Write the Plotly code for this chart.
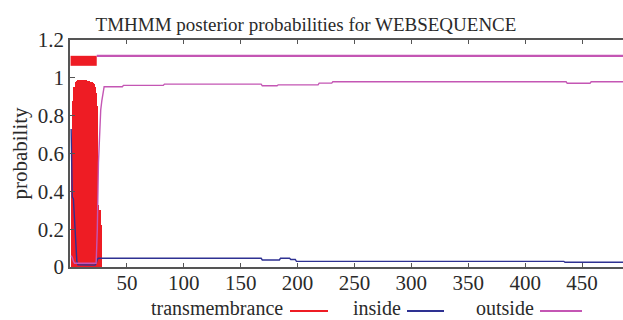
import plotly.graph_objects as go

# ---- data ----
seq_length = 486

# transmembrane posterior probability per residue (impulses)
tm_pos = list(range(1, 29))
tm_prob = [0.0, 0.62, 0.88, 0.95, 0.98, 0.985, 0.99, 0.99, 0.99, 0.99,
           0.99, 0.99, 0.99, 0.99, 0.985, 0.985, 0.985, 0.98, 0.98, 0.975,
           0.97, 0.95, 0.92, 0.85, 0.33, 0.30, 0.22, 0.0]

# inside probability (breakpoints)
in_pos = [1, 2, 3, 4, 5, 6, 7, 22, 23, 24, 25, 168, 169, 184, 185, 193, 194,
          198, 199, 434, 435, 486]
in_prob = [0.73, 0.37, 0.36, 0.22, 0.08, 0.03, 0.012, 0.01, 0.02, 0.04, 0.046,
           0.046, 0.037, 0.037, 0.046, 0.046, 0.04, 0.04, 0.03, 0.03, 0.025,
           0.025]

# outside probability (breakpoints)
out_pos = [1, 2, 3, 4, 23, 24, 25, 26, 27, 28, 29, 30, 46, 47, 82, 83, 168,
           169, 182, 183, 218, 219, 230, 231, 436, 437, 457, 458, 486]
out_prob = [0.06, 0.05, 0.03, 0.02, 0.02, 0.2, 0.55, 0.72, 0.83, 0.88, 0.93,
            0.953, 0.953, 0.96, 0.96, 0.967, 0.967, 0.958, 0.958, 0.963,
            0.963, 0.972, 0.972, 0.979, 0.979, 0.971, 0.971, 0.979, 0.979]

# predicted topology segments (start, end)
tm_segments = [(1, 23)]
outside_segments = [(24, 486)]

x_ticks = [50, 100, 150, 200, 250, 300, 350, 400, 450]
y_ticks = [0, 0.2, 0.4, 0.6, 0.8, 1, 1.2]

legend_labels = ["transmembrance", "inside", "outside"]

# ---- style ----
RED = "#ee1c24"
BLUE = "#2e3192"
MAG = "#c456b4"
FONT = "Liberation Serif"
AX = "#555555"
TXT = "#2a2a2a"

fig = go.Figure()

fig.add_trace(go.Bar(x=tm_pos, y=tm_prob, width=1.0,
                     marker=dict(color=RED, line=dict(width=0)),
                     showlegend=False, hoverinfo="skip"))

fig.add_trace(go.Scatter(x=in_pos, y=in_prob, mode="lines",
                         line=dict(color=BLUE, width=1.4),
                         showlegend=False))
fig.add_trace(go.Scatter(x=out_pos, y=out_prob, mode="lines",
                         line=dict(color=MAG, width=1.4),
                         showlegend=False))

# topology bars above the curves
for s, e in tm_segments:
    fig.add_trace(go.Scatter(x=[s - 0.5, e + 0.5], y=[1.09, 1.09], mode="lines",
                             line=dict(color=RED, width=10),
                             showlegend=False))
for s, e in outside_segments:
    fig.add_trace(go.Scatter(x=[s - 0.5, e + 0.5], y=[1.116, 1.116], mode="lines",
                             line=dict(color=MAG, width=2.2),
                             showlegend=False))

# ---- custom legend (text then line sample), below the axis ----
L, R, T, B = 70, 0, 40, 53
W, H = 623, 320
pw, ph = W - L - R, H - T - B


def px(xp):
    return (xp - L) / pw


def py(yp):
    return (H - B - yp) / ph


legend_items = [
    (legend_labels[0], RED, 284, 290, 328),
    (legend_labels[1], BLUE, 402, 407, 444),
    (legend_labels[2], MAG, 535, 540, 582),
]
annotations = []
shapes = []
for label, col, tx, x0, x1 in legend_items:
    annotations.append(dict(text=label, xref="paper", yref="paper",
                            x=px(tx), y=py(308), xanchor="right",
                            yanchor="middle", showarrow=False, borderpad=0,
                            font=dict(family=FONT, size=20, color=TXT)))
    shapes.append(dict(type="line", xref="paper", yref="paper",
                       x0=px(x0), x1=px(x1), y0=py(311), y1=py(311),
                       line=dict(color=col, width=2)))

fig.update_layout(
    width=W, height=H,
    margin=dict(l=L, r=R, t=T, b=B, pad=0),
    plot_bgcolor="white", paper_bgcolor="white",
    bargap=0,
    title=dict(text="TMHMM posterior probabilities for WEBSEQUENCE",
               x=306 / W, xanchor="center", y=1 - 24 / H, yanchor="middle",
               xref="container", yref="container",
               font=dict(family=FONT, size=19, color=TXT)),
    xaxis=dict(range=[0, seq_length], tickvals=x_ticks,
               ticks="inside", ticklen=4, tickwidth=1, tickcolor=AX,
               showline=True, linecolor=AX, linewidth=1.5, mirror="ticks",
               showgrid=False, zeroline=False, ticklabelstandoff=-4,
               tickfont=dict(family=FONT, size=21, color=TXT)),
    yaxis=dict(range=[0, 1.2], tickvals=y_ticks,
               ticktext=["0", "0.2", "0.4", "0.6", "0.8", "1", "1.2"],
               ticks="inside", ticklen=5, tickwidth=1, tickcolor=AX,
               showline=True, linecolor=AX, linewidth=1.5,
               showgrid=False, zeroline=False,
               title=dict(text="probability", standoff=4,
                          font=dict(family=FONT, size=21, color=TXT)),
               tickfont=dict(family=FONT, size=21, color=TXT)),
    annotations=annotations,
    shapes=shapes,
)

fig.write_html("out.html")
